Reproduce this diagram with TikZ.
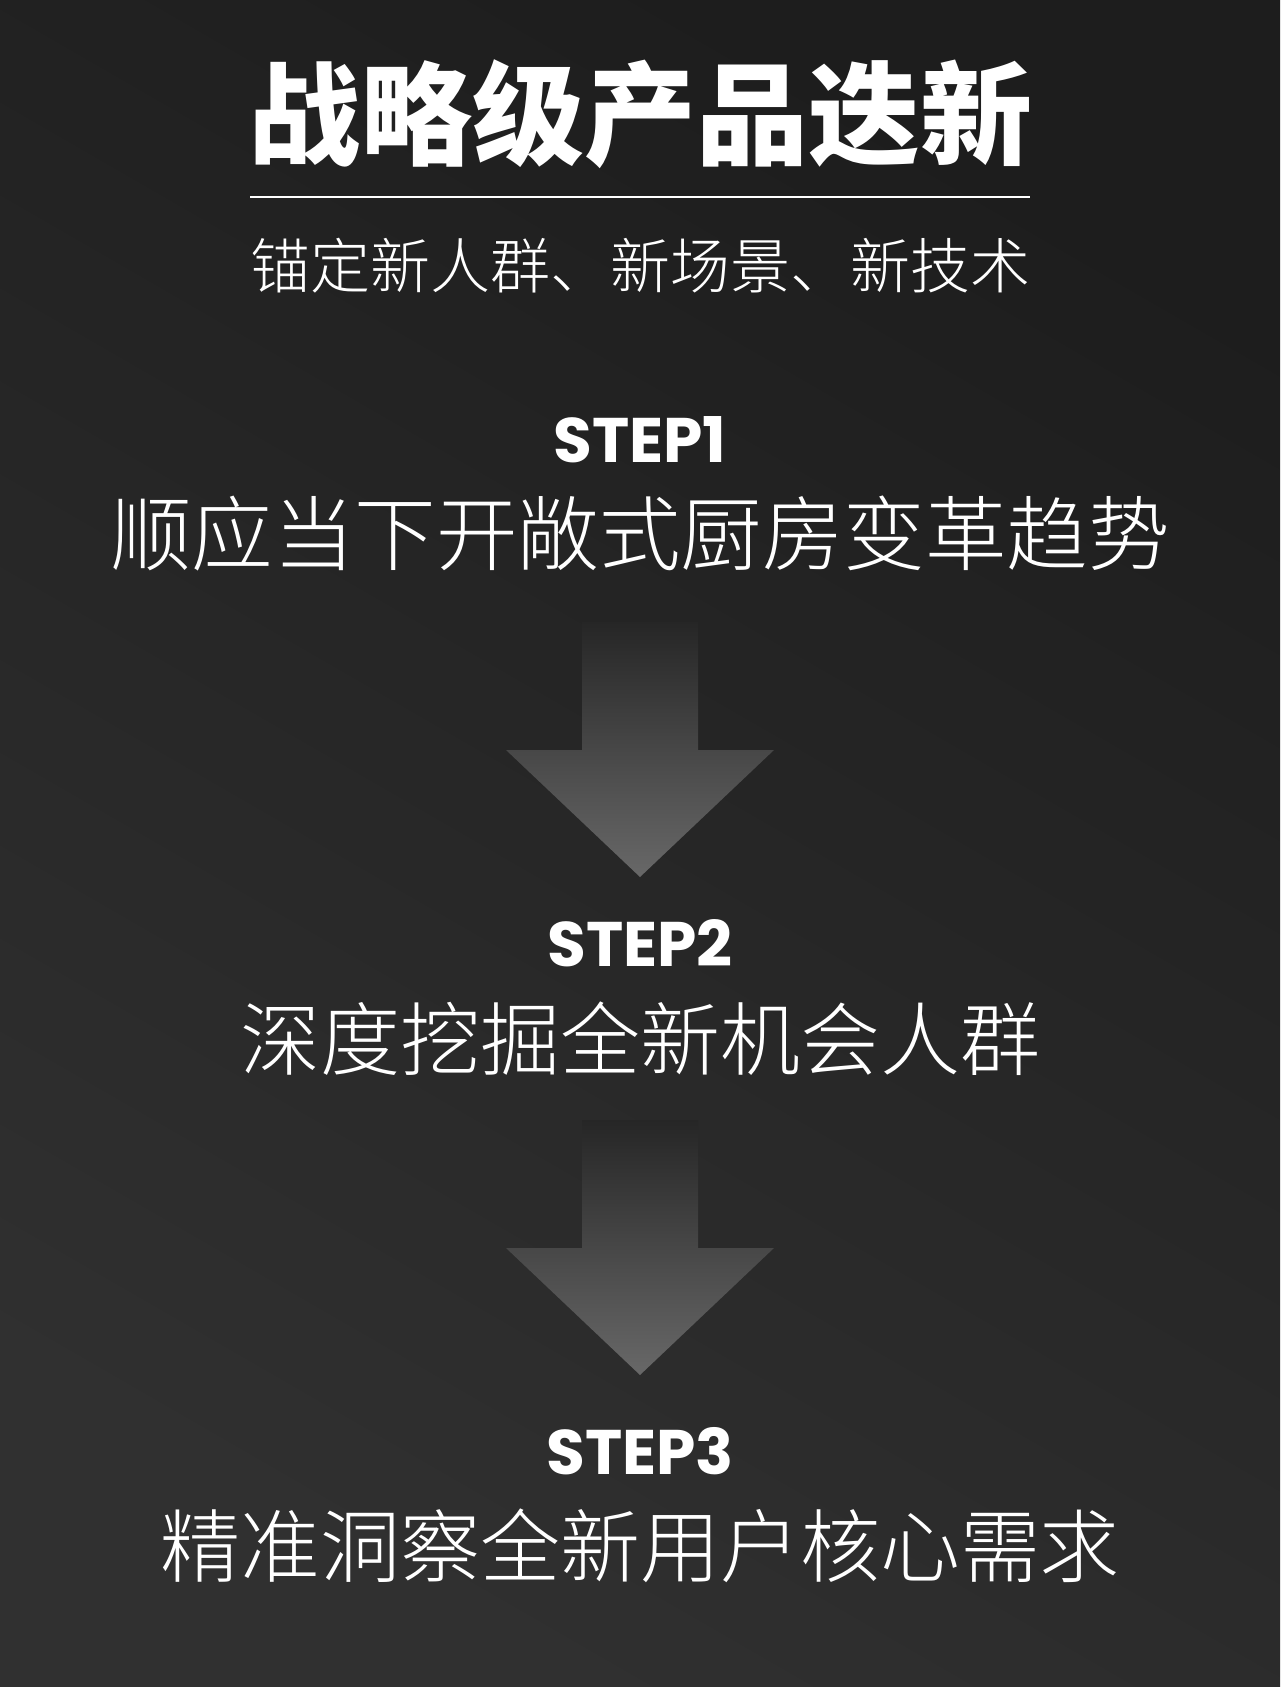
\documentclass[tikz,border=0pt]{standalone}
\usepackage{fontspec}
\usetikzlibrary{positioning}
\newfontfamily\titlefont{Noto Sans CJK SC Black}
\newfontfamily\lightfont{Noto Sans CJK SC Light}
\newfontfamily\stepfont{Poppins Bold}
\definecolor{bgdark}{RGB}{29,29,29}
\definecolor{bglight}{RGB}{48,48,48}
\definecolor{arrowtop}{RGB}{38,38,38}
\definecolor{arrowtip}{RGB}{104,104,104}

\begin{document}
\begin{tikzpicture}[x=1pt,y=-1pt,
        every node/.style={inner sep=0pt,text=white},
        steplabel/.style={font=\stepfont\fontsize{63}{63}\selectfont},
        stepline/.style={font=\lightfont\fontsize{80}{80}\selectfont},
        bigarrow/.style={top color=arrowtop,bottom color=arrowtip,draw=none}]
        \useasboundingbox (0,0) rectangle (1280,1687);
        \shade[top color=bgdark,bottom color=bglight,shading angle=-30] (0,0) rectangle (1280,1687);

        \node at (640,114) (title) {\titlefont\fontsize{112}{112}\selectfont 战略级产品迭新};
        \coordinate (ruleL) at (250,197);
        \coordinate (ruleR) at (1030,197);
        \draw[white,line width=2pt] (ruleL) -- (ruleR);
        \node at (640,266) (sub) {\lightfont\fontsize{60}{60}\selectfont 锚定新人群、新场景、新技术};

        \node[steplabel] at (640,440) (s1) {STEP1};
        \node[stepline,font=\lightfont\fontsize{81.5}{81.5}\selectfont] at (640,533) (t1) {顺应当下开敞式厨房变革趋势};
        \node[steplabel] at (640,943) (s2) {STEP2};
        \node[stepline] at (640,1039) (t2) {深度挖掘全新机会人群};
        \node[steplabel] at (640,1451) (s3) {STEP3};
        \node[stepline] at (640,1546) (t3) {精准洞察全新用户核心需求};

        % arrows between the steps
        \foreach \ya in {750,1248}
            \shade[bigarrow] (582,\ya-128) -- (698,\ya-128) -- (698,\ya) -- (774,\ya)
                -- (640,\ya+127) -- (506,\ya) -- (582,\ya) -- cycle;
    \end{tikzpicture}
\end{document}
